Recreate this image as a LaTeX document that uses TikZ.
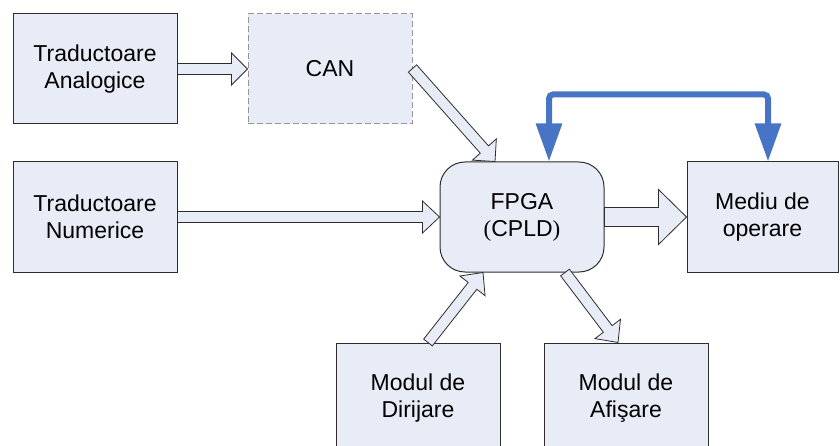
\documentclass[tikz,border=0pt]{standalone}
\usepackage{fontspec}
\setmainfont{Liberation Sans}
\newfontfamily\parenfont{Liberation Serif}
\usetikzlibrary{calc,arrows.meta}
\definecolor{boxfill}{RGB}{232,236,247}
\definecolor{boxline}{RGB}{45,45,45}
\definecolor{busblue}{RGB}{71,116,196}
\definecolor{dashline}{RGB}{150,150,150}

\tikzset{
  unit/.style={draw=boxline, fill=boxfill, line width=1pt, minimum width=164pt,
    minimum height=110pt, inner sep=0pt, align=center,
    font=\fontsize{23pt}{27pt}\selectfont},
  dashedunit/.style={unit, draw=dashline, dash pattern=on 6pt off 3pt},
  coreunit/.style={unit, rounded corners=25pt},
  blockarr/.style={draw=boxline, fill=boxfill, line width=0.8pt, line join=miter},
  bus/.style={busblue, line width=6pt, rounded corners=4pt,
    {Triangle[width=25pt,length=38pt]}-{Triangle[width=25pt,length=38pt]}},
}

% hollow block arrow: name, from, to, shaft half width, head half width, head length
\newcommand\blockarrow[6]{%
  \coordinate (#1base) at ($(#3)!#6!(#2)$);
  \draw[blockarr] ($(#2)!#4!90:(#3)$) -- ($(#1base)!#4!90:(#3)$)
    -- ($(#1base)!#5!90:(#3)$) -- (#3) -- ($(#1base)!#5!-90:(#3)$)
    -- ($(#1base)!#4!-90:(#3)$) -- ($(#2)!#4!-90:(#3)$) -- cycle;
}

\begin{document}
\begin{tikzpicture}[x=1pt,y=-1pt]
\useasboundingbox (0,0) rectangle (840,446);
\clip (0,0) rectangle (840,446);

% blocks
\node[unit] (ta) at (95,69) {Traductoare\\Analogice};
\node[dashedunit] (can) at (330,69) {CAN};
\node[unit] (tn) at (95,217) {Traductoare\\Numerice};
\node[coreunit] (fpga) at (522,217) {FPGA\\{\parenfont(}CPLD{\parenfont)}};
\node[unit, minimum width=151pt] (med) at (762.5,217) {Mediu de\\operare};
\node[unit] (dir) at (418,398) {Modul de\\Dirijare};
\node[unit] (afi) at (626,398) {Modul de\\Afişare};

% attachment points of the arrows
\coordinate (canout) at ([yshift=0.5pt]can.east);
\coordinate (fpgatop) at ([xshift=-27pt]fpga.north);
\coordinate (dirout) at ([xshift=10pt]dir.north);
\coordinate (fpgabl) at ([xshift=-39pt]fpga.south);
\coordinate (fpgabr) at ([xshift=43pt]fpga.south);
\coordinate (afiin) at ([xshift=-8pt]afi.north);
\coordinate (busa) at ([xshift=27pt]fpga.north);
\coordinate (busb) at ([xshift=5.5pt]med.north);

% data flow
\blockarrow{a}{ta.east}{can.west}{5.5pt}{16pt}{16pt}
\blockarrow{b}{tn.east}{fpga.west}{5.5pt}{16pt}{17pt}
\blockarrow{c}{canout}{fpgatop}{5.5pt}{16pt}{16pt}
\blockarrow{d}{fpga.east}{med.west}{9.5pt}{27.5pt}{28pt}
\blockarrow{e}{dirout}{fpgabl}{5.5pt}{16pt}{17pt}
\blockarrow{f}{fpgabr}{afiin}{5.5pt}{16pt}{17pt}

% bidirectional bus
\draw[bus] (busa) -- ++(0,-67) -| (busb);
\end{tikzpicture}
\end{document}
